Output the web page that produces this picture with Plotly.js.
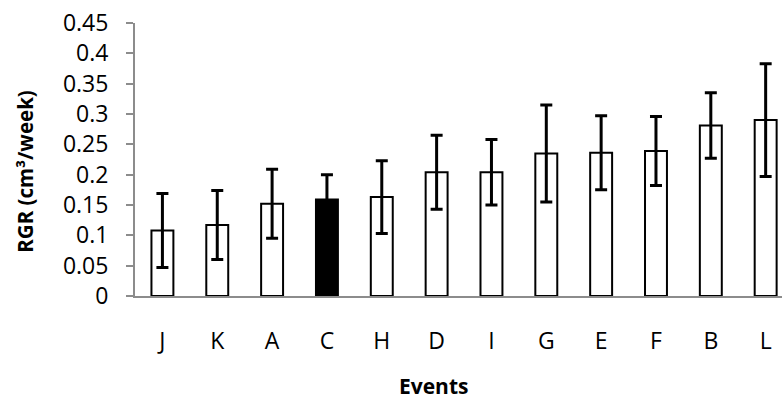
<!DOCTYPE html>
<html>
<head>
<meta charset="utf-8">
<script src="https://cdn.plot.ly/plotly-3.0.1.min.js"></script>
<style>html,body{margin:0;padding:0;background:#fff;}#chart{width:782px;height:402px;}</style>
</head>
<body>
<div id="chart"></div>
<script>
const events = ["J","K","A","C","H","D","I","G","E","F","B","L"];
const rgr    = [0.108,0.117,0.152,0.159,0.163,0.204,0.204,0.235,0.236,0.239,0.281,0.290];
const errs   = [0.061,0.057,0.057,0.041,0.060,0.061,0.054,0.080,0.061,0.057,0.054,0.093];
const highlight = "C";
const yTicks = [0,0.05,0.1,0.15,0.2,0.25,0.3,0.35,0.4,0.45];
const yTickText = ["0","0.05","0.1","0.15","0.2","0.25","0.3","0.35","0.4","0.45"];

const fills = events.map(e => e === highlight ? "#000000" : "#ffffff");
const FONT = "Open Sans, Lato, sans-serif";

const trace = {
  type: "bar",
  x: events,
  y: rgr,
  marker: {color: fills, line: {color: "#000000", width: 2}},
  error_y: {type: "data", array: errs, visible: true, color: "#000000", thickness: 3, width: 6},
  hoverinfo: "x+y"
};

const layout = {
  width: 782, height: 402,
  margin: {l: 135, r: 0, t: 23, b: 106, pad: 0},
  paper_bgcolor: "#ffffff", plot_bgcolor: "#ffffff",
  showlegend: false,
  bargap: 0.6,
  font: {family: FONT, size: 23, color: "#000000"},
  xaxis: {
    type: "category",
    range: [-0.5, 11.298],
    showline: true, linecolor: "#8c8c8c", linewidth: 2,
    ticks: "", showgrid: false, zeroline: false,
    tickfont: {family: FONT, size: 23, color: "#000000"},
    ticklabelstandoff: 23,
    fixedrange: true
  },
  yaxis: {
    range: [0, 0.45],
    tickvals: yTicks, ticktext: yTickText,
    showline: true, linecolor: "#8c8c8c", linewidth: 2,
    ticks: "outside", ticklen: 7, tickwidth: 2, tickcolor: "#8c8c8c",
    showgrid: false, zeroline: false,
    tickfont: {family: FONT, size: 23, color: "#000000"},
    ticklabelstandoff: 13,
    fixedrange: true
  },
  annotations: [
    {text: "<b>RGR (cm³/week)</b>", xref: "paper", yref: "paper", x: -135/647 + 25/647, y: (296.5-172)/273.5,
     xanchor: "center", yanchor: "middle", textangle: -90, showarrow: false,
     font: {family: FONT, size: 20.5, color: "#000000"}},
    {text: "<b>Events</b>", xref: "paper", yref: "paper", x: (433-135)/647, y: -(387-296.5)/273.5,
     xanchor: "center", yanchor: "middle", showarrow: false,
     font: {family: FONT, size: 21, color: "#000000"}}
  ]
};

Plotly.newPlot("chart", [trace], layout, {displayModeBar: false, staticPlot: true});
</script>
</body>
</html>
